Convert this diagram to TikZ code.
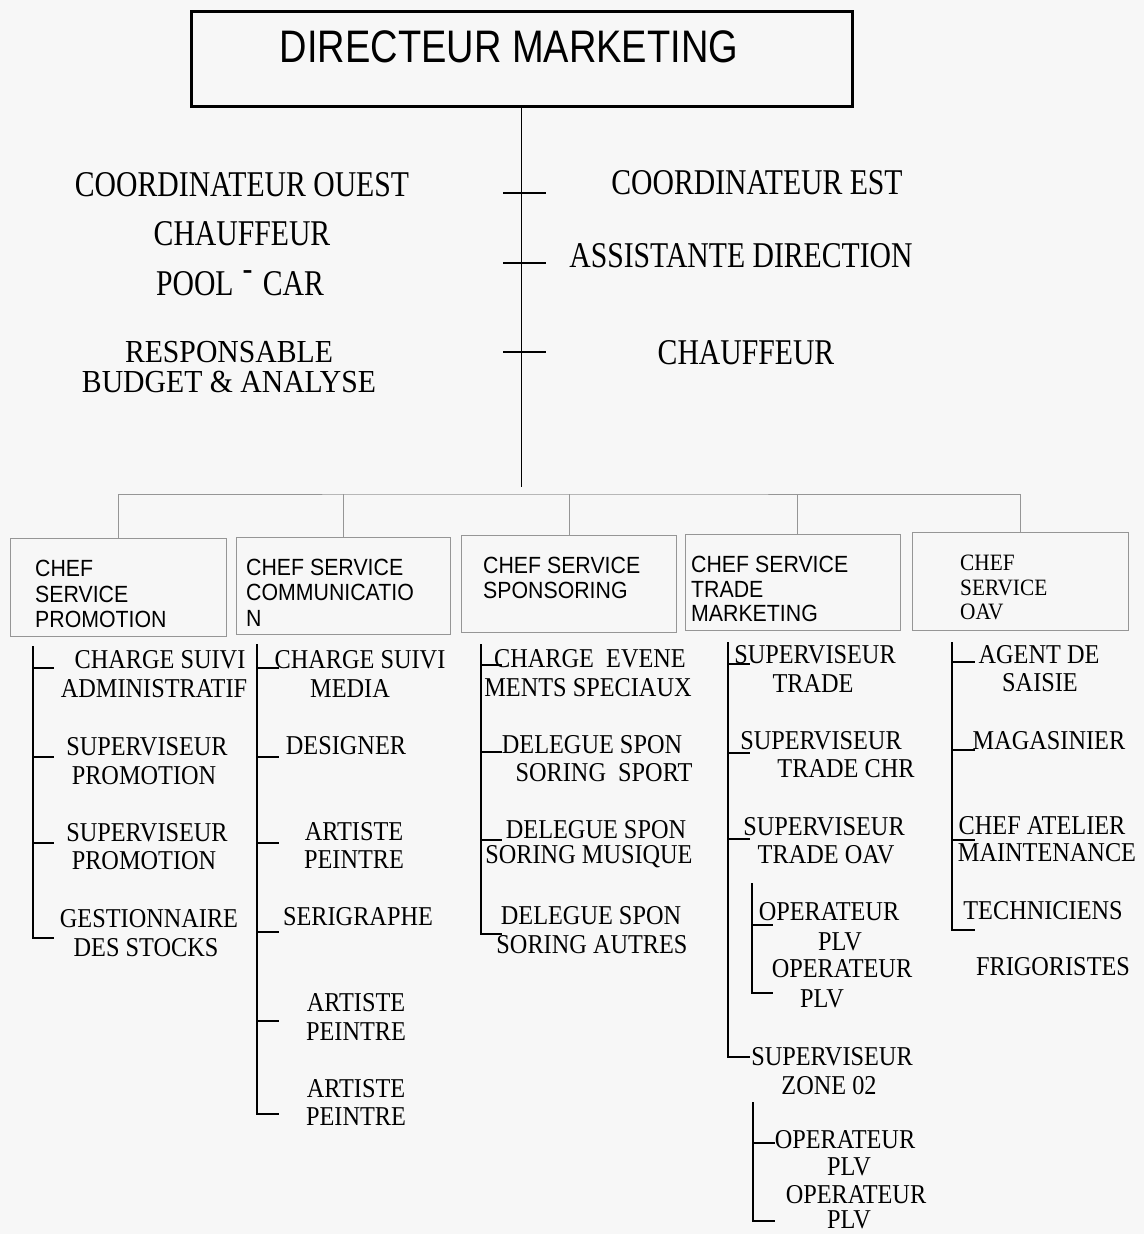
\documentclass[tikz,border=0pt]{standalone}
\usepackage{fontspec}
\usepackage{graphicx}
\setmainfont{Liberation Serif}
\newfontfamily\arialfont{Liberation Sans}
\definecolor{paper}{RGB}{247,247,247}
\definecolor{frame}{RGB}{150,150,150}

% text stretched vertically, as in the condensed typewritten chart
\newcommand\tallt[2]{\scalebox{1}[#1]{#2}}
\newcommand\Top[1]{\tallt{1.22}{#1}}
\newcommand\Itm[1]{\tallt{1.12}{#1}}
\newcommand\Bxt[1]{\tallt{1.1}{#1}}

% a vertical bracket: spine starting at (#2,#3), ticks ending at x=#4, at the heights #5
\newcommand\bracketset[5]{%
  \coordinate (#1top) at (#2,#3);
  \foreach \yy [count=\i] in {#5} {
    \coordinate (#1t\i) at (#4,\yy);
    \draw[branch] (#1top) |- (#1t\i);
  }%
}

\begin{document}
\begin{tikzpicture}[x=1pt,y=-1pt,
  staff/.style={inner sep=0pt, font=\fontsize{29.7}{30}\selectfont},
  post/.style={inner sep=0pt, font=\fontsize{24.3}{25}\selectfont},
  boxtext/.style={inner sep=0pt, anchor=west, font=\arialfont\fontsize{21.3}{22}\selectfont},
  boxserif/.style={inner sep=0pt, anchor=west, font=\fontsize{21.3}{22}\selectfont},
  unitbox/.style={draw=frame, line width=0.9pt, anchor=north west, inner sep=0pt},
  mainline/.style={line width=1.5pt},
  busline/.style={draw=frame, line width=0.9pt},
  branch/.style={line width=1.8pt},
]
\fill[paper] (0,0) rectangle (1144,1234);
\useasboundingbox (0,0) rectangle (1144,1234);

% ---------- director ----------
\node[draw, line width=3pt, minimum width=661pt, minimum height=95pt, inner sep=0pt]
  (dir) at (521.5,58.5) {};
\node[inner sep=0pt, font=\arialfont\fontsize{38}{40}\selectfont] (dirtxt) at (509,47)
  {\tallt{1.2}{DIRECTEUR MARKETING}};

% ---------- staff ----------
\coordinate (spineend) at (521.5,487);
\draw[mainline] (dir.south) -- (spineend);
\foreach \yy [count=\i] in {193,263,352} {
  \coordinate (kl\i) at (503,\yy);
  \coordinate (kr\i) at (546,\yy);
  \draw[mainline] (kl\i) -- (kr\i);
}

\node[staff] (cwest) at (242,185) {\Top{COORDINATEUR OUEST}};
\node[staff] (drvw)  at (242,234) {\Top{CHAUFFEUR}};
\node[staff] (pool)  at (240,283) {\Top{POOL\hspace{0.3em}\raisebox{0.42em}{-}\hspace{0.35em}CAR}};
\node[staff] (respa) at (229,352) {\tallt{1.08}{RESPONSABLE}};
\node[staff] (respb) at (229,382) {\tallt{1.08}{BUDGET \& ANALYSE}};
\node[staff] (ceast) at (757,183) {\Top{COORDINATEUR EST}};
\node[staff] (asst)  at (741,256) {\Top{ASSISTANTE DIRECTION}};
\node[staff] (drve)  at (746,353) {\Top{CHAUFFEUR}};

% ---------- services ----------
\node[unitbox, minimum width=216pt, minimum height=98pt] (promo) at (10,538) {};
\node[unitbox, minimum width=214pt, minimum height=97pt] (comm)  at (236,537) {};
\node[unitbox, minimum width=215pt, minimum height=97pt] (spons) at (461,535) {};
\node[unitbox, minimum width=215pt, minimum height=96pt] (trade) at (685,534) {};
\node[unitbox, minimum width=216pt, minimum height=98pt] (oav)   at (912,532) {};

\coordinate (bus) at (521.5,494);
\draw[busline] (promo.north) |- (bus) -| (oav.north);
\draw[busline] (comm.north) -- (comm.north |- bus);
\draw[busline] (spons.north) -- (spons.north |- bus);
\draw[busline] ([xshift=4pt]trade.north) -- ([xshift=4pt]trade.north |- bus);

\node[boxtext] (promo1) at (35,568) {\Bxt{CHEF}};
\node[boxtext] (promo2) at (35,594) {\Bxt{SERVICE}};
\node[boxtext] (promo3) at (35,619) {\Bxt{PROMOTION}};
\node[boxtext] (comm1) at (246,567) {\Bxt{CHEF SERVICE}};
\node[boxtext] (comm2) at (246,592) {\Bxt{COMMUNICATIO}};
\node[boxtext] (comm3) at (246,618) {\Bxt{N}};
\node[boxtext] (spons1) at (483,565) {\Bxt{CHEF SERVICE}};
\node[boxtext] (spons2) at (483,590) {\Bxt{SPONSORING}};
\node[boxtext] (trade1) at (691,564) {\Bxt{CHEF SERVICE}};
\node[boxtext] (trade2) at (691,589) {\Bxt{TRADE}};
\node[boxtext] (trade3) at (691,613) {\Bxt{MARKETING}};
\node[boxserif] (oav1) at (960,563) {\Bxt{CHEF}};
\node[boxserif] (oav2) at (960,588) {\Bxt{SERVICE}};
\node[boxserif] (oav3) at (960,612) {\Bxt{OAV}};

% ---------- brackets under each service ----------
\bracketset{pr}{33}{646}{54}{668,757,843,938}
\bracketset{co}{257}{644}{279}{668,757,843,932,1021,1114}
\bracketset{sp}{481}{644}{502}{665,752,840,934}
\bracketset{tr}{728}{642}{750}{664,753,839,1057}
\bracketset{za}{752}{883}{773}{925,993}
\bracketset{zb}{753}{1102}{775}{1143,1221}
\bracketset{oa}{952}{642}{975}{662,750,840,930}

% promotion
\node[post] (p1a) at (160,660) {\Itm{CHARGE SUIVI}};
\node[post] (p1b) at (154,689) {\Itm{ADMINISTRATIF}};
\node[post] (p2a) at (147,747) {\Itm{SUPERVISEUR}};
\node[post] (p2b) at (144,776) {\Itm{PROMOTION}};
\node[post] (p3a) at (147,833) {\Itm{SUPERVISEUR}};
\node[post] (p3b) at (144,861) {\Itm{PROMOTION}};
\node[post] (p4a) at (149,919) {\Itm{GESTIONNAIRE}};
\node[post] (p4b) at (146,948) {\Itm{DES STOCKS}};

% communication
\node[post] (c1a) at (360,660) {\Itm{CHARGE SUIVI}};
\node[post] (c1b) at (350,689) {\Itm{MEDIA}};
\node[post] (c2)  at (346,746) {\Itm{DESIGNER}};
\node[post] (c3a) at (354,832) {\Itm{ARTISTE}};
\node[post] (c3b) at (354,860) {\Itm{PEINTRE}};
\node[post] (c4)  at (358,917) {\Itm{SERIGRAPHE}};
\node[post] (c5a) at (356,1003) {\Itm{ARTISTE}};
\node[post] (c5b) at (356,1032) {\Itm{PEINTRE}};
\node[post] (c6a) at (356,1089) {\Itm{ARTISTE}};
\node[post] (c6b) at (356,1117) {\Itm{PEINTRE}};

% sponsoring
\node[post] (s1a) at (590,659) {\Itm{CHARGE\ \ EVENE}};
\node[post] (s1b) at (588,688) {\Itm{MENTS SPECIAUX}};
\node[post] (s2a) at (592,745) {\Itm{DELEGUE SPON}};
\node[post] (s2b) at (604,773) {\Itm{SORING\ \ SPORT}};
\node[post] (s3a) at (596,830) {\Itm{DELEGUE SPON}};
\node[post] (s3b) at (589,857) {\Itm{SORING MUSIQUE}};
\node[post] (s4a) at (591,916) {\Itm{DELEGUE SPON}};
\node[post] (s4b) at (592,945) {\Itm{SORING AUTRES}};

% trade marketing
\node[post] (t1a) at (815,655) {\Itm{SUPERVISEUR}};
\node[post] (t1b) at (813,684) {\Itm{TRADE}};
\node[post] (t2a) at (821,741) {\Itm{SUPERVISEUR}};
\node[post] (t2b) at (846,769) {\Itm{TRADE CHR}};
\node[post] (t3a) at (824,827) {\Itm{SUPERVISEUR}};
\node[post] (t3b) at (826,855) {\Itm{TRADE OAV}};
\node[post] (o1a) at (829,912) {\Itm{OPERATEUR}};
\node[post] (o1b) at (840,942) {\Itm{PLV}};
\node[post] (o2a) at (842,969) {\Itm{OPERATEUR}};
\node[post] (o2b) at (822,999) {\Itm{PLV}};
\node[post] (t4a) at (832,1057) {\Itm{SUPERVISEUR}};
\node[post] (t4b) at (829,1086) {\Itm{ZONE 02}};
\node[post] (o3a) at (845,1140) {\Itm{OPERATEUR}};
\node[post] (o3b) at (849,1167) {\Itm{PLV}};
\node[post] (o4a) at (856,1195) {\Itm{OPERATEUR}};
\node[post] (o4b) at (849,1220) {\Itm{PLV}};

% OAV
\node[post] (v1a) at (1039,655) {\Itm{AGENT DE}};
\node[post] (v1b) at (1040,683) {\Itm{SAISIE}};
\node[post] (v2)  at (1049,741) {\Itm{MAGASINIER}};
\node[post] (v3a) at (1042,826) {\Itm{CHEF ATELIER}};
\node[post] (v3b) at (1047,853) {\Itm{MAINTENANCE}};
\node[post] (v4)  at (1043,911) {\Itm{TECHNICIENS}};
\node[post] (v5)  at (1053,967) {\Itm{FRIGORISTES}};
\end{tikzpicture}
\end{document}
